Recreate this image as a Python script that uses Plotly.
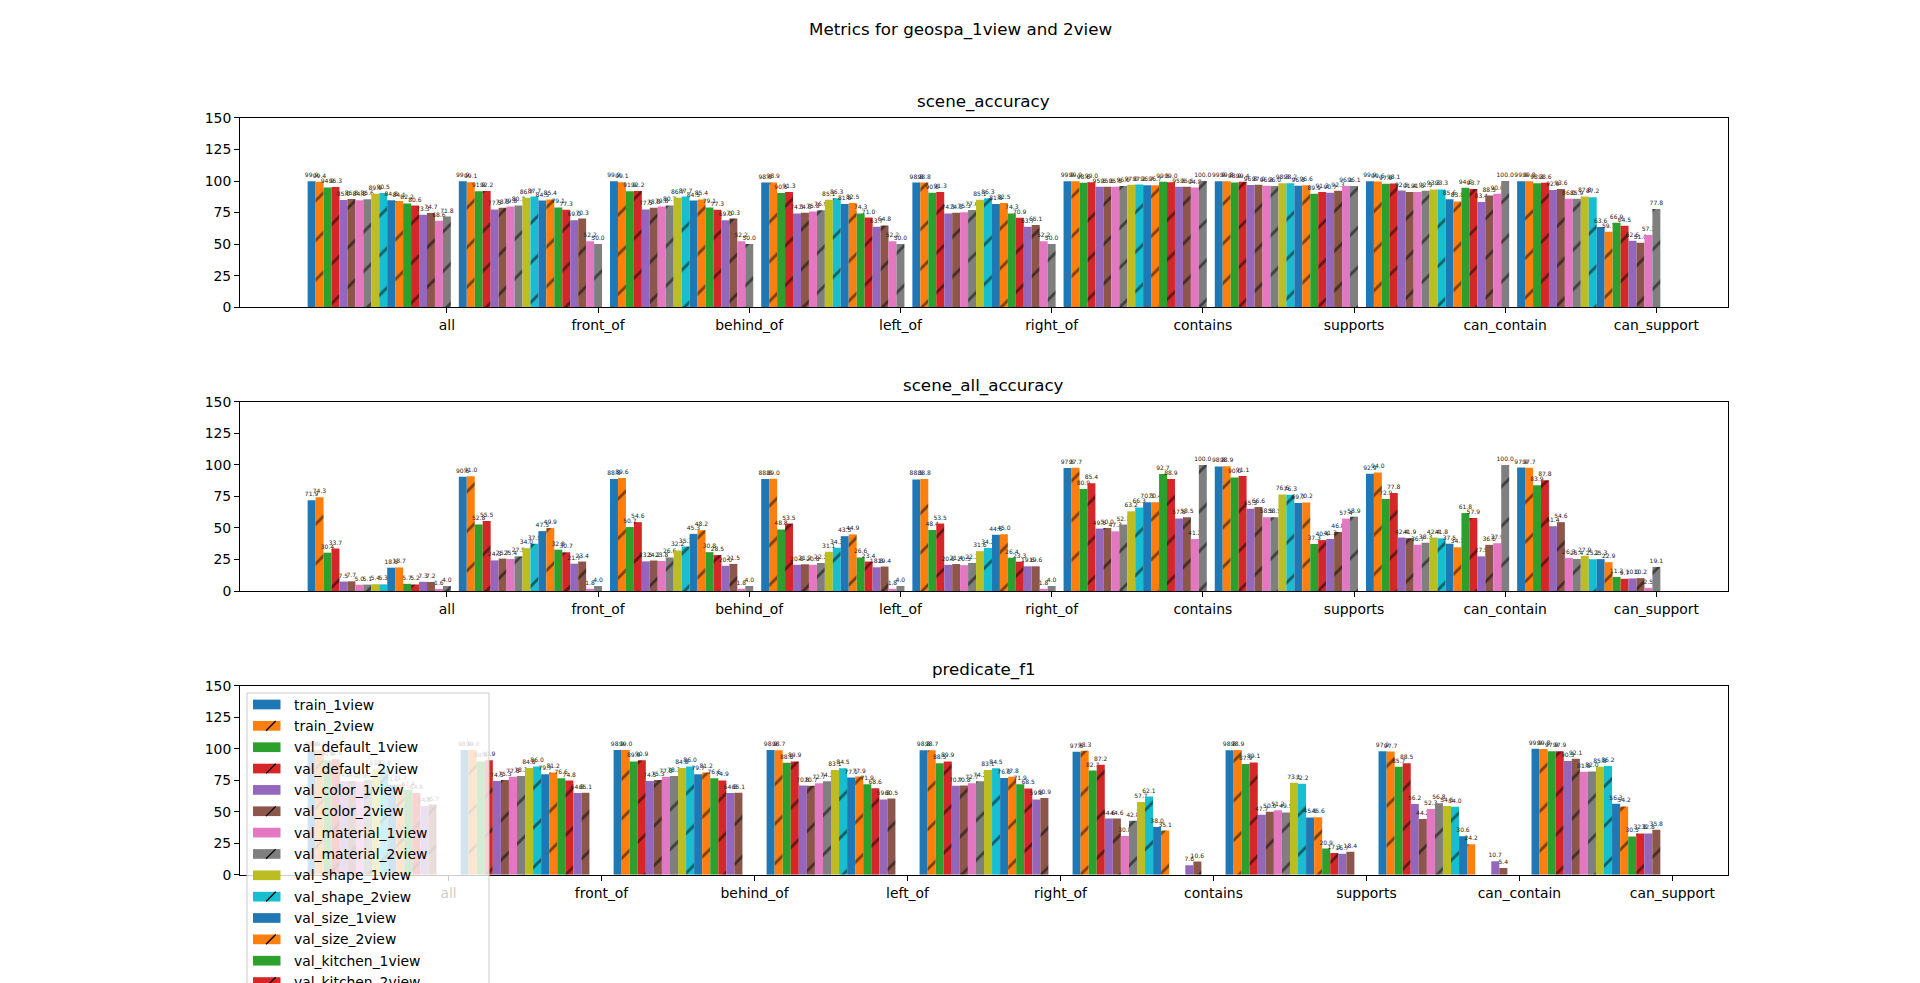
import plotly.graph_objects as go

categories = ["all", "front_of", "behind_of", "left_of", "right_of",
              "contains", "supports", "can_contain", "can_support"]
series_names = ["train_1view", "train_2view",
                "val_default_1view", "val_default_2view",
                "val_color_1view", "val_color_2view",
                "val_material_1view", "val_material_2view",
                "val_shape_1view", "val_shape_2view",
                "val_size_1view", "val_size_2view",
                "val_kitchen_1view", "val_kitchen_2view",
                "val_office_1view", "val_office_2view",
                "val_bathroom_1view", "val_bathroom_2view"]
metric_titles = ["scene_accuracy", "scene_all_accuracy", "predicate_f1"]
y_ticks = [0, 25, 50, 75, 100, 125, 150]

# one row per category, one column per series (None = no bar)
scene_accuracy = [
    [99.9, 99.4, 94.9, 95.3, 85.0, 85.8, 84.8, 85.6, 89.9, 90.5, 84.8, 84.1, 82.2, 80.6, 73.3, 74.7, 68.6, 71.8],
    [99.9, 99.1, 91.9, 92.2, 77.5, 78.8, 79.8, 80.7, 86.7, 87.7, 84.5, 85.4, 79.1, 77.3, 69.0, 70.3, 52.2, 50.0],
    [99.9, 99.1, 91.9, 92.2, 77.5, 78.8, 79.8, 80.7, 86.7, 87.7, 84.5, 85.4, 79.1, 77.3, 69.0, 70.3, 52.2, 50.0],
    [98.8, 98.9, 90.5, 91.3, 74.3, 74.8, 75.8, 76.9, 85.1, 86.3, 81.8, 82.5, 74.3, 71.0, 63.7, 64.8, 52.2, 50.0],
    [98.8, 98.8, 90.8, 91.3, 74.3, 74.8, 75.3, 77.0, 85.1, 86.3, 81.8, 82.5, 74.3, 70.9, 63.7, 65.1, 52.2, 50.0],
    [99.9, 99.9, 98.6, 99.0, 95.5, 95.5, 95.5, 96.0, 97.0, 97.2, 96.7, 96.7, 99.5, 99.0, 95.5, 95.5, 94.8, 100.0],
    [99.9, 99.8, 98.9, 99.4, 96.8, 97.0, 96.3, 96.0, 98.3, 98.2, 96.3, 96.6, 89.9, 91.3, 90.7, 92.3, 96.1, 96.1],
    [99.9, 99.6, 97.9, 98.1, 92.5, 91.4, 91.3, 92.3, 93.3, 93.3, 85.6, 83.8, 94.6, 93.7, 83.4, 88.5, 90.0, 100.0],
    [99.9, 99.8, 98.3, 98.6, 92.9, 93.6, 86.0, 85.9, 87.8, 87.2, 63.6, 59.7, 66.9, 64.5, 52.6, 51.0, 57.3, 77.8],
]
scene_all_accuracy = [
    [71.9, 74.3, 30.4, 33.7, 7.5, 7.7, 5.0, 5.1, 5.4, 5.3, 18.5, 18.7, 5.7, 5.2, 7.3, 7.2, 1.6, 4.0],
    [90.5, 91.0, 52.8, 55.5, 24.3, 25.7, 25.4, 27.5, 34.0, 37.5, 47.5, 49.9, 32.8, 30.7, 21.7, 23.4, 1.8, 4.0],
    [88.8, 89.6, 50.7, 54.6, 23.5, 24.2, 23.8, 26.6, 32.2, 35.3, 45.3, 48.2, 30.8, 28.5, 20.0, 21.5, 1.8, 4.0],
    [88.8, 89.0, 48.8, 53.5, 20.8, 21.2, 20.8, 22.2, 31.1, 34.3, 43.5, 44.9, 26.6, 23.4, 18.8, 19.4, 1.8, 4.0],
    [88.5, 88.8, 48.4, 53.5, 20.8, 21.4, 20.5, 22.3, 31.6, 34.2, 44.6, 45.0, 26.4, 23.3, 19.6, 19.6, 1.8, 4.0],
    [97.5, 97.7, 80.9, 85.4, 49.5, 50.0, 47.3, 52.7, 63.2, 66.3, 70.3, 70.4, 92.7, 88.9, 57.5, 58.5, 41.2, 100.0],
    [98.8, 98.9, 90.0, 91.1, 65.3, 66.6, 58.5, 58.5, 76.6, 76.3, 69.7, 70.2, 37.3, 40.4, 41.3, 46.8, 57.4, 58.9],
    [92.9, 94.0, 72.9, 77.8, 42.4, 41.9, 36.7, 38.3, 42.4, 41.8, 37.5, 34.7, 61.8, 57.9, 27.5, 36.6, 37.9, 100.0],
    [97.9, 97.7, 83.9, 87.8, 51.4, 54.6, 26.3, 25.4, 27.9, 25.2, 25.3, 22.9, 11.2, 9.7, 10.0, 10.2, 2.5, 19.1],
]
predicate_f1 = [
    [98.9, 99.0, 90.9, 91.6, 74.2, 74.5, 73.8, 75.3, 83.8, 83.8, 71.2, 71.7, 67.4, 64.9, 54.5, 55.7, None, None],
    [98.9, 99.0, 89.9, 90.9, 74.5, 75.3, 77.8, 78.3, 84.8, 86.0, 79.7, 81.2, 76.6, 74.8, 64.8, 65.1, None, None],
    [98.9, 99.0, 89.9, 90.9, 74.5, 75.3, 77.8, 78.3, 84.8, 86.0, 79.7, 81.2, 76.6, 74.9, 64.8, 65.1, None, None],
    [98.9, 98.7, 88.8, 89.9, 70.8, 70.7, 72.7, 74.2, 83.1, 84.5, 77.1, 77.9, 71.9, 68.6, 59.8, 60.5, None, None],
    [98.8, 98.7, 88.5, 89.9, 70.7, 70.8, 72.7, 74.2, 83.1, 84.5, 76.8, 77.8, 71.9, 68.5, 59.8, 60.9, None, None],
    [97.5, 98.3, 82.7, 87.2, 44.6, 44.6, 30.8, 42.8, 57.7, 62.1, 38.0, 35.1, None, None, 7.6, 10.6, None, None],
    [98.8, 98.9, 87.9, 89.1, 47.7, 50.0, 51.2, 49.5, 73.1, 72.2, 45.5, 45.6, 20.9, 17.3, 16.7, 18.4, None, None],
    [97.9, 97.7, 85.7, 88.5, 56.2, 44.2, 52.3, 56.8, 54.5, 54.0, 30.6, 24.2, None, None, 10.7, 5.4, None, None],
    [99.9, 99.8, 97.9, 97.9, 90.3, 92.1, 81.8, 82.0, 85.8, 86.2, 56.3, 54.2, 30.5, 32.8, 32.8, 35.8, None, None],
]
metric_values = [scene_accuracy, scene_all_accuracy, predicate_f1]

# ---------------- styling / geometry ----------------
W, H = 1920, 983
FONT = "DejaVu Sans"
TAB10 = ["#1f77b4", "#ff7f0e", "#2ca02c", "#d62728", "#9467bd",
         "#8c564b", "#e377c2", "#7f7f7f", "#bcbd22", "#17becf"]
n_series = len(series_names)
bar_w = 1.0 / (n_series + 1)
x_domain = [0.125, 0.9]
y_domains = [[0.6875, 0.88], [0.39875, 0.59125], [0.11, 0.3025]]
TICK_FS = 13.9
TITLE_FS = 16.7
LABEL_FS = 6


def px_x(p):
    return p / W


def px_y(p):
    return 1 - p / H


fig = go.Figure()

for k, (title, rows) in enumerate(zip(metric_titles, metric_values)):
    sfx = "" if k == 0 else str(k + 1)
    all_x = []
    for j, name in enumerate(series_names):
        xs, ys, txt = [], [], []
        for c in range(len(categories)):
            v = rows[c][j]
            xs.append(c + j * bar_w)
            ys.append(v)
            txt.append("" if v is None else f"{v:.1f}")
            if v is not None:
                all_x.append(c + j * bar_w)
        marker = dict(color=TAB10[j % 10], line=dict(width=0))
        if j % 2 == 1:
            marker["pattern"] = dict(shape="/", fgcolor="black", size=28, solidity=0.1)
        fig.add_trace(go.Bar(
            x=xs, y=ys, width=bar_w, name=name, marker=marker,
            text=txt, textposition="outside", textangle=0,
            constraintext="none", cliponaxis=False,
            textfont=dict(family=FONT, size=LABEL_FS, color="#222222"),
            xaxis="x" + sfx, yaxis="y" + sfx, showlegend=False,
            hoverinfo="x+y",
        ))
    lo = min(all_x) - bar_w / 2
    hi = max(all_x) + bar_w / 2
    m = 0.05 * (hi - lo)
    tickvals = [c + (n_series - 1) * bar_w for c in range(len(categories))]
    fig.layout["xaxis" + sfx] = dict(
        domain=x_domain, anchor="y" + sfx, range=[lo - m, hi + m],
        tickmode="array", tickvals=tickvals, ticktext=categories,
        showline=True, mirror=True, linecolor="black", linewidth=1,
        ticks="outside", ticklen=5, tickwidth=1, tickcolor="black",
        showgrid=False, zeroline=False, automargin=False,
        tickfont=dict(family=FONT, size=TICK_FS, color="black"),
    )
    fig.layout["yaxis" + sfx] = dict(
        domain=y_domains[k], anchor="x" + sfx, range=[0, 150],
        tickmode="array", tickvals=y_ticks, ticktext=[str(t) for t in y_ticks],
        showline=True, mirror=True, linecolor="black", linewidth=1,
        ticks="outside", ticklen=5, tickwidth=1, tickcolor="black",
        showgrid=False, zeroline=False, automargin=False,
        tickfont=dict(family=FONT, size=TICK_FS, color="black"),
    )
    fig.add_annotation(
        text=title, xref="paper", yref="paper",
        x=(x_domain[0] + x_domain[1]) / 2, y=y_domains[k][1],
        xanchor="center", yanchor="bottom", yshift=4, showarrow=False,
        font=dict(family=FONT, size=TITLE_FS, color="black"),
    )

# suptitle
fig.add_annotation(
    text="Metrics for geospa_1view and 2view", xref="paper", yref="paper",
    x=0.5, y=px_y(17), xanchor="center", yanchor="top", showarrow=False,
    font=dict(family=FONT, size=TITLE_FS, color="black"),
)

# legend (matplotlib-style, upper-left of the last axes, runs past the figure bottom)
LEG_L, LEG_R, LEG_T = 247, 489, 693
ROW0, ROW_H = 704.5, 21.35
SW_L, SW_R, SW_H = 253, 280.5, 9.7
TXT_X = 291.5
shapes = [dict(type="rect", xref="paper", yref="paper", layer="above",
               x0=px_x(LEG_L), x1=px_x(LEG_R), y0=px_y(LEG_T), y1=px_y(LEG_T + 12 + ROW_H * n_series),
               fillcolor="rgba(255,255,255,0.8)", line=dict(color="#cccccc", width=1))]
for j, name in enumerate(series_names):
    yc = ROW0 + ROW_H * j
    shapes.append(dict(type="rect", xref="paper", yref="paper", layer="above",
                       x0=px_x(SW_L), x1=px_x(SW_R),
                       y0=px_y(yc + SW_H / 2), y1=px_y(yc - SW_H / 2),
                       fillcolor=TAB10[j % 10], line=dict(width=0)))
    if j % 2 == 1:
        off = 6 + (j * 7) % 14
        shapes.append(dict(type="line", xref="paper", yref="paper", layer="above",
                           x0=px_x(SW_L + off), x1=px_x(SW_L + off + SW_H),
                           y0=px_y(yc + SW_H / 2), y1=px_y(yc - SW_H / 2),
                           line=dict(color="black", width=1.3)))
    fig.add_annotation(
        text=name, xref="paper", yref="paper", x=px_x(TXT_X), y=px_y(yc),
        xanchor="left", yanchor="middle", showarrow=False,
        font=dict(family=FONT, size=TICK_FS, color="black"),
    )

fig.update_layout(
    width=W, height=H, margin=dict(l=0, r=0, t=0, b=0, pad=0, autoexpand=False),
    paper_bgcolor="white", plot_bgcolor="white",
    barmode="overlay", showlegend=False, shapes=shapes,
    font=dict(family=FONT, color="black"),
)

fig.write_html("out.html", config={"displayModeBar": False},
               post_script="document.body.style.margin='0px';document.body.style.overflow='hidden';")
